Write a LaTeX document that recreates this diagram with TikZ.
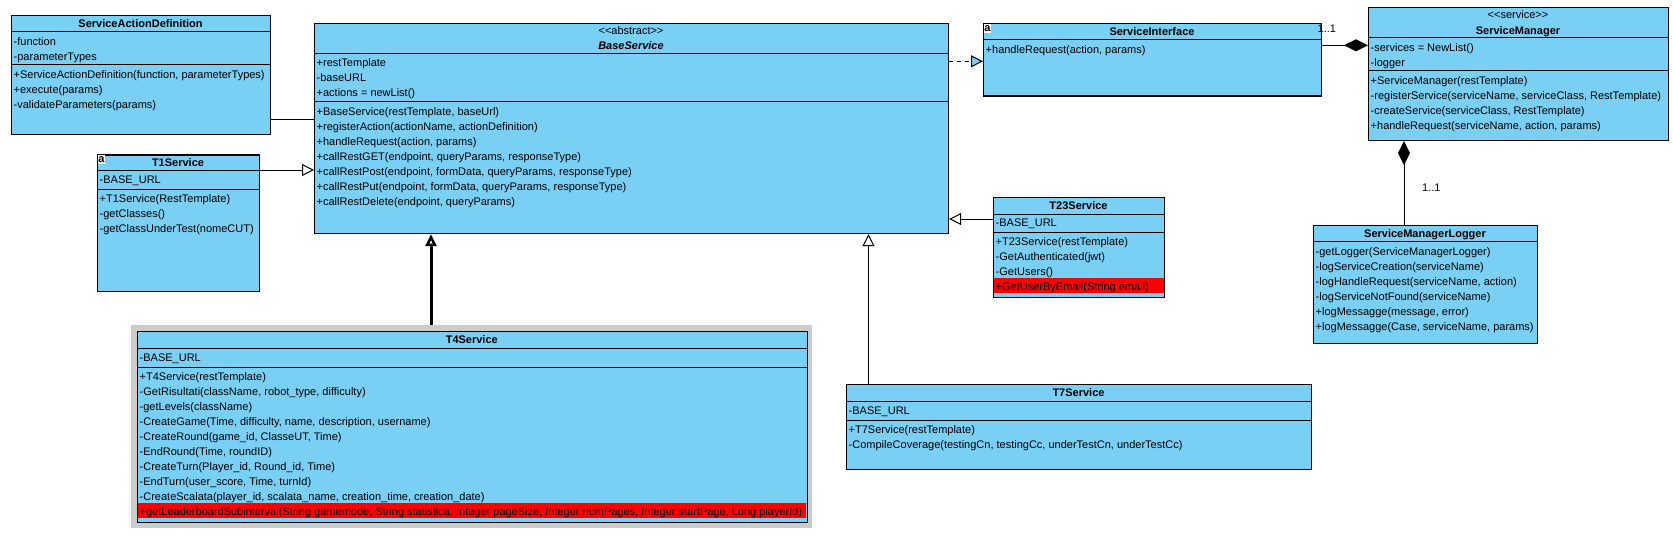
\documentclass[tikz,border=0pt]{standalone}
\usepackage{fontspec}
\setmainfont{Liberation Sans}
\usetikzlibrary{arrows.meta,calc}
\definecolor{clsfill}{RGB}{122,207,245}
\definecolor{hlred}{RGB}{255,0,0}
\definecolor{selgrey}{RGB}{204,204,204}
\newcommand\classrows[4]{\foreach \t [count=\i from 0] in {#4} {\node[rowtext] (#1-\i) at (#2,{#3+15*\i}) {\t};}}
\tikzset{
  classbox/.style={draw=black, line width=1.2pt, fill=clsfill, inner sep=0pt, anchor=north west},
  sepline/.style={draw=black, line width=1pt},
  rowtext/.style={font=\fontsize{11}{15}\selectfont, inner sep=0pt, anchor=base west},
  titletext/.style={font=\fontsize{11}{13}\selectfont\bfseries, inner sep=0pt, anchor=base},
  stereotext/.style={font=\fontsize{11}{13}\selectfont, inner sep=0pt, anchor=base},
  redrow/.style={fill=hlred, draw=none, inner sep=0pt, anchor=north west},
  selframe/.style={fill=selgrey, draw=none, inner sep=0pt, anchor=north west},
  iconbox/.style={fill=white, inner sep=0pt, minimum width=7pt, minimum height=9pt, anchor=north west, font=\fontsize{11}{11}\selectfont\bfseries},
  multlabel/.style={font=\fontsize{11}{13}\selectfont, inner sep=0pt, anchor=base west},
  conn/.style={draw=black, line width=1pt},
  gen/.style={conn, -{Triangle[length=12pt, width=12pt, fill=white]}},
  genthick/.style={draw=black, line width=3pt, -{Triangle[length=12pt, width=11pt, fill=white, line width=2.5pt]}},
  realize/.style={conn, dash pattern=on 4pt off 4pt, -{Triangle[length=12pt, width=12pt, fill=clsfill]}},
  comp/.style={conn, -{Diamond[length=24pt, width=12pt, fill=black]}},
}
\begin{document}
\begin{tikzpicture}[x=1pt,y=-1pt]
\useasboundingbox (0,0) rectangle (1673,543);

% ---------- ServiceActionDefinition
\node[classbox, minimum width=259pt, minimum height=119pt] (sad) at (11,15) {};
\draw[sepline] (11,32) -- (270,32);
\draw[sepline] (11,65) -- (270,65);
\node[titletext] (sad-title) at (140.5,27.5) {ServiceActionDefinition};
\classrows{sada}{13.5}{45.5}{-function, -parameterTypes}
\classrows{sadm}{13.5}{78.5}{{+ServiceActionDefinition(function, parameterTypes)}, +execute(params), -validateParameters(params)}

% ---------- BaseService
\node[classbox, minimum width=634pt, minimum height=209.7pt] (bs) at (314,23.3) {};
\draw[sepline] (314,53.3) -- (948,53.3);
\draw[sepline] (314,101.7) -- (948,101.7);
\node[stereotext] (bs-stereo) at (631,35) {<{}<abstract>{}>};
\node[titletext, font=\fontsize{11}{13}\selectfont\bfseries\itshape] (bs-title) at (631,50) {BaseService};
\classrows{bsa}{316.5}{66.8}{+restTemplate, -baseURL, {+actions = newList()}}
\classrows{bsm}{316.5}{115.2}{{+BaseService(restTemplate, baseUrl)}, {+registerAction(actionName, actionDefinition)}, {+handleRequest(action, params)}, {+callRestGET(endpoint, queryParams, responseType)}, {+callRestPost(endpoint, formData, queryParams, responseType)}, {+callRestPut(endpoint, formData, queryParams, responseType)}, {+callRestDelete(endpoint, queryParams)}}

% ---------- ServiceInterface
\node[classbox, minimum width=338pt, minimum height=72pt] (si) at (983,23.3) {};
\draw[sepline] (983,39.3) -- (1321,39.3);
\node[titletext] (si-title) at (1152,35.3) {ServiceInterface};
\node[iconbox] (si-icon) at (983.7,24) {a};
\classrows{sim}{985.5}{53.3}{{+handleRequest(action, params)}}

% ---------- ServiceManager
\node[classbox, minimum width=300pt, minimum height=132.7pt] (sm) at (1368,7.3) {};
\draw[sepline] (1368,37.7) -- (1668,37.7);
\draw[sepline] (1368,70.7) -- (1668,70.7);
\node[stereotext] (sm-stereo) at (1518,18.8) {<{}<service>{}>};
\node[titletext] (sm-title) at (1518,34.3) {ServiceManager};
\classrows{sma}{1370.5}{51.2}{{-services = NewList()}, -logger}
\classrows{smm}{1370.5}{84.2}{{+ServiceManager(restTemplate)}, {-registerService(serviceName, serviceClass, RestTemplate)}, {-createService(serviceClass, RestTemplate)}, {+handleRequest(serviceName, action, params)}}

% ---------- T1Service
\node[classbox, minimum width=162pt, minimum height=136.7pt] (t1) at (97,154.3) {};
\draw[sepline] (97,170) -- (259,170);
\draw[sepline] (97,189) -- (259,189);
\node[titletext] (t1-title) at (178,166) {T1Service};
\node[iconbox] (t1-icon) at (97.7,155) {a};
\classrows{t1a}{99.5}{183.5}{-BASE\_URL}
\classrows{t1m}{99.5}{202.5}{{+T1Service(RestTemplate)}, -getClasses(), {-getClassUnderTest(nomeCUT)}}

% ---------- T23Service
\node[classbox, minimum width=171pt, minimum height=100pt] (t23) at (993,197) {};
\node[redrow, minimum width=169.8pt, minimum height=15pt] (t23-red) at (993.6,277.3) {};
\draw[sepline] (993,214) -- (1164,214);
\draw[sepline] (993,232) -- (1164,232);
\node[titletext] (t23-title) at (1078.5,209.3) {T23Service};
\classrows{t23a}{995.5}{226.8}{-BASE\_URL}
\classrows{t23m}{995.5}{245.3}{{+T23Service(restTemplate)}, {-GetAuthenticated(jwt)}, -GetUsers(), {+GetUserByEmail(String email)}}

% ---------- ServiceManagerLogger
\node[classbox, minimum width=224pt, minimum height=117.5pt] (sml) at (1313,225) {};
\draw[sepline] (1313,241) -- (1537,241);
\node[titletext] (sml-title) at (1425,237.2) {ServiceManagerLogger};
\classrows{smlm}{1315.5}{255.3}{{-getLogger(ServiceManagerLogger)}, {-logServiceCreation(serviceName)}, {-logHandleRequest(serviceName, action)}, {-logServiceNotFound(serviceName)}, {+logMessagge(message, error)}, {+logMessagge(Case, serviceName, params)}}

% ---------- T4Service
\node[selframe, minimum width=681pt, minimum height=203pt] (t4-sel) at (131,325) {};
\node[classbox, minimum width=669.6pt, minimum height=191pt] (t4) at (137,331) {};
\node[redrow, minimum width=668.4pt, minimum height=14.5pt] (t4-red) at (137.6,503.1) {};
\draw[sepline] (137,348) -- (806.6,348);
\draw[sepline] (137,367) -- (806.6,367);
\node[titletext] (t4-title) at (471.8,343.3) {T4Service};
\classrows{t4a}{139.5}{361.5}{-BASE\_URL}
\classrows{t4m}{139.5}{380.8}{{+T4Service(restTemplate)}, {-GetRisultati(className, robot\_type, difficulty)}, {-getLevels(className)}, {-CreateGame(Time, difficulty, name, description, username)}, {-CreateRound(game\_id, ClasseUT, Time)}, {-EndRound(Time, roundID)}, {-CreateTurn(Player\_id, Round\_id, Time)}, {-EndTurn(user\_score, Time, turnId)}, {-CreateScalata(player\_id, scalata\_name, creation\_time, creation\_date)}, {+getLeaderboardSubinterval(String gamemode, String statistica, Integer pageSize, Integer numPages, Integer startPage, Long playerId)}}

% ---------- T7Service
\node[classbox, minimum width=465pt, minimum height=85pt] (t7) at (846,384) {};
\draw[sepline] (846,401) -- (1311,401);
\draw[sepline] (846,420) -- (1311,420);
\node[titletext] (t7-title) at (1078.5,396.3) {T7Service};
\classrows{t7a}{848.5}{414.6}{-BASE\_URL}
\classrows{t7m}{848.5}{433.6}{{+T7Service(restTemplate)}, {-CompileCoverage(testingCn, testingCc, underTestCn, underTestCc)}}

% ---------- connectors
\draw[conn] ($(sad.north east)+(0,104.3)$) -- ($(bs.north west)+(0,96)$);
\draw[gen] ($(t1.north east)+(0,15.7)$) -- ($(bs.north west)+(0,146.7)$);
\draw[gen] ($(t23.north west)+(0,22)$) -- ($(bs.north east)+(0,195.7)$);
\draw[genthick] ($(t4-sel.north west)+(300,0)$) -- ($(bs.south west)+(117,0)$);
\draw[gen] ($(t7.north west)+(22.5,0)$) -- ($(bs.south west)+(554.5,0)$);
\draw[realize] ($(bs.north east)+(0,38)$) -- ($(si.north west)+(0,38)$);
\draw[comp] ($(si.north east)+(0,22)$) -- ($(sm.north west)+(0,38)$);
\draw[comp] ($(sml.north west)+(91,0)$) -- ($(sm.south west)+(36,0)$);
\node[multlabel] (mult-si) at (1317.5,33) {1..1};
\node[multlabel] (mult-sml) at (1422,191) {1..1};
\end{tikzpicture}
\end{document}
